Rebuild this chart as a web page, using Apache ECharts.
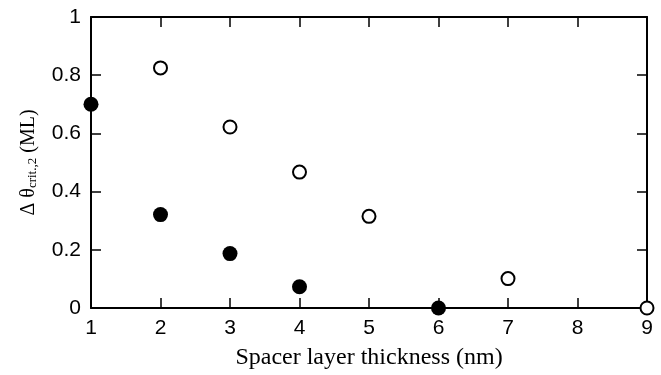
<!DOCTYPE html>
<html>
<head>
<meta charset="utf-8">
<script src="https://cdn.jsdelivr.net/npm/echarts@6/dist/echarts.min.js"></script>
<style>
    html, body { margin: 0; padding: 0; background: #fff; }
    #main { width: 661px; height: 375px; }
</style>
</head>
<body>
<div id="main"></div>
<script>
// data
var thickness = [1, 2, 3, 4, 5, 6, 7, 8, 9];
var openX = [2, 3, 4, 5, 7, 9];
var openY = [0.825, 0.622, 0.467, 0.315, 0.101, 0];
var filledX = [1, 2, 3, 4, 6];
var filledY = [0.70, 0.321, 0.187, 0.073, 0];

function pairs(xs, ys) {
    var out = [];
    for (var i = 0; i < xs.length; i++) {
        out.push([xs[i], ys[i]]);
    }
    return out;
}

var myChart = echarts.init(document.getElementById('main'));

var tickLine = { show: true, inside: true, length: 10, lineStyle: { color: '#000', width: 1.5 } };
var axisLine = { show: true, onZero: false, lineStyle: { color: '#000', width: 2 } };

var option = {
    animation: false,
    backgroundColor: '#fff',
    grid: {
        left: 91,
        right: 14,
        top: 17,
        bottom: 67
    },
    xAxis: [{
        type: 'value',
        min: 1,
        max: 9,
        interval: 1,
        position: 'bottom',
        axisLine: axisLine,
        axisTick: tickLine,
        splitLine: { show: false },
        axisLabel: {
            color: '#000',
            fontFamily: 'Liberation Sans',
            fontSize: 21,
            margin: 10
        },
        name: 'Spacer layer thickness (nm)',
        nameLocation: 'middle',
        nameGap: 38,
        nameTextStyle: {
            color: '#000',
            fontFamily: 'Liberation Serif',
            fontSize: 24
        }
    }, {
        type: 'value',
        min: 1,
        max: 9,
        interval: 1,
        position: 'top',
        axisLine: axisLine,
        axisTick: tickLine,
        axisLabel: { show: false },
        splitLine: { show: false }
    }],
    yAxis: [{
        type: 'value',
        min: 0,
        max: 1,
        interval: 0.2,
        position: 'left',
        axisLine: axisLine,
        axisTick: tickLine,
        splitLine: { show: false },
        axisLabel: {
            color: '#000',
            fontFamily: 'Liberation Sans',
            fontSize: 21,
            margin: 10
        },
        name: '{a|\u0394 \u03b8}{s|crit.,2}{a| (ML)}',
        nameLocation: 'middle',
        nameGap: 52,
        nameTextStyle: {
            color: '#000',
            rich: {
                a: { fontFamily: 'Liberation Serif', fontSize: 20, color: '#000', lineHeight: 26, verticalAlign: 'bottom' },
                s: { fontFamily: 'Liberation Serif', fontSize: 13, color: '#000', lineHeight: 18, verticalAlign: 'bottom' }
            }
        }
    }, {
        type: 'value',
        min: 0,
        max: 1,
        interval: 0.2,
        position: 'right',
        axisLine: axisLine,
        axisTick: tickLine,
        axisLabel: { show: false },
        splitLine: { show: false }
    }],
    series: [{
        name: 'open',
        type: 'scatter',
        data: pairs(openX, openY),
        symbol: 'circle',
        symbolSize: 13,
        clip: false,
        z: 5,
        itemStyle: {
            color: '#fff',
            borderColor: '#000',
            borderWidth: 2,
            opacity: 1
        }
    }, {
        name: 'filled',
        type: 'scatter',
        data: pairs(filledX, filledY),
        symbol: 'circle',
        symbolSize: 15,
        clip: false,
        z: 5,
        itemStyle: {
            color: '#000',
            opacity: 1
        }
    }]
};

myChart.setOption(option);
</script>
</body>
</html>
